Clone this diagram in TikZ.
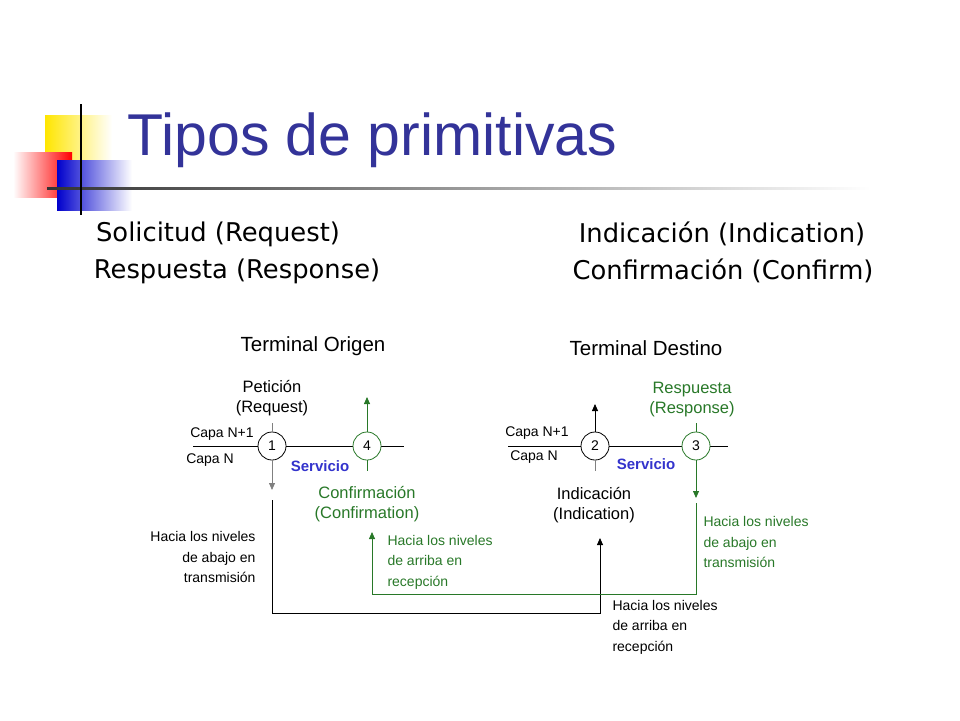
\documentclass[tikz,border=0pt]{standalone}
\usepackage{fontspec}
\setmainfont{Liberation Sans}
\newfontfamily\tahomalike{DejaVu Sans}
\usetikzlibrary{arrows.meta,positioning}
\definecolor{titleblue}{RGB}{51,51,153}
\definecolor{servblue}{RGB}{51,51,204}
\definecolor{greenc}{RGB}{40,120,40}
\tikzset{
  prim/.style={circle, draw, thick, minimum size=28pt, inner sep=0pt, font=\fontsize{14}{14}\selectfont, fill=white},
  lbl/.style={font=\fontsize{16.5}{20}\selectfont, align=center},
  small/.style={font=\fontsize{14}{21}\selectfont},
  note/.style={font=\fontsize{14}{20.5}\selectfont},
  sub/.style={font=\tahomalike\fontsize{25.8}{25.8}\selectfont},
  tip/.style={-{Triangle[length=7pt,width=6pt]}}
}
\begin{document}
\begin{tikzpicture}[x=1pt,y=-1pt]
  \useasboundingbox (0,0) rectangle (960,720);
  % decoration
  \shade[left color=yellow!80!orange, right color=white] (45,115) rectangle (112,165);
  \shade[left color=white, right color=red] (13,152) rectangle (72,197);
  \shade[left color=blue!80!black, right color=white] (57,160) rectangle (132,210);
  \shade[left color=black!80, right color=white] (47,187) rectangle (870,189.5);
  \draw[line width=2pt] (81,104) -- (81,215);
  % title
  \node[anchor=west, text=titleblue, font=\fontsize{59}{59}\selectfont] (title) at (124,140) {Tipos de primitivas};
  % subtitles
  \node[sub] (sol) at (218,234) {Solicitud (Request)};
  \node[sub] (resp) at (237,271) {Respuesta (Response)};
  \node[sub] (ind) at (722,234) {Indicación (Indication)};
  \node[sub] (conf) at (723,271) {Confirmación (Confirm)};

  % Terminal Origen
  \node[font=\fontsize{20.5}{20.5}\selectfont] (torig) at (313,346) {Terminal Origen};
  \draw[thick] (193,446) -- (404,446);
  \node[prim] (p1) at (272,446) {1};
  \node[prim, draw=greenc] (p4) at (367,446) {4};
  \node[lbl] (pet) at (272,398) {Petición\\(Request)};
  \node[small] (capaA) at (222,434) {Capa N+1};
  \node[small] (capaB) at (210,460) {Capa N};
  \node[text=servblue, font=\bfseries\fontsize{15}{15}\selectfont] (serv1) at (320,466) {Servicio};
  \node[lbl, text=greenc] (confn) at (367,504) {Confirmación\\(Confirmation)};
  \node[note, align=right, anchor=east] (bajo1) at (259,557) {Hacia los niveles\\de abajo en\\transmisión};
  \node[note, align=left, anchor=west, text=greenc] (arriba1) at (384,562) {Hacia los niveles\\de arriba en\\recepción};

  % Terminal Destino
  \node[font=\fontsize{20.5}{20.5}\selectfont] (tdest) at (646,348) {Terminal Destino};
  \draw[thick] (508,446) -- (728,446);
  \node[prim] (p2) at (595,446) {2};
  \node[prim, draw=greenc] (p3) at (696,446) {3};
  \node[small] (capaC) at (537,433) {Capa N+1};
  \node[small] (capaD) at (534,457) {Capa N};
  \node[text=servblue, font=\bfseries\fontsize{15}{15}\selectfont] (serv2) at (646,464) {Servicio};
  \node[lbl] (indn) at (594,505) {Indicación\\(Indication)};
  \node[lbl, text=greenc] (respn) at (692,400) {Respuesta\\(Response)};
  \node[note, align=left, anchor=west, text=greenc] (bajo2) at (700,542) {Hacia los niveles\\de abajo en\\transmisión};
  \node[note, align=left, anchor=west] (arriba2) at (609,627) {Hacia los niveles\\de arriba en\\recepción};

  % ticks
  \draw[thick, gray] (p1.north) -- ++(0,-9);
  \draw[thick, gray] (p2.south) -- ++(0,11);
  \draw[thick, greenc] (p4.south) -- ++(0,11);
  \draw[thick, greenc] (p3.north) -- ++(0,-9);
  % connectors
  \draw[thick, gray, tip] (p1.south) -- (272,490);
  \draw[thick, tip] (p2.north) -- (595,404);
  \draw[thick, greenc, tip] (p4.north) -- (367,397);
  \draw[thick, greenc, tip] (p3.south) -- (696,498);
  \coordinate (r1) at (272,500);
  \coordinate (r2) at (696,503);
  \draw[thick, tip] (r1) |- (600,613) -- (600,538);
  \draw[thick, greenc, tip] (r2) |- (372,594) -- (372,532);
\end{tikzpicture}
\end{document}
